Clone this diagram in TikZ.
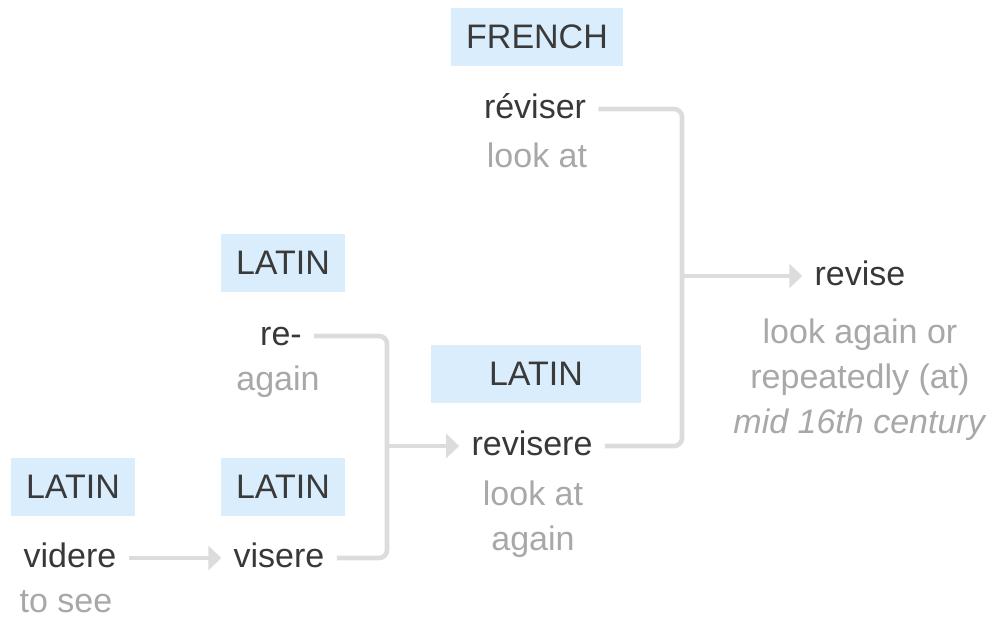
\documentclass[tikz,border=0pt]{standalone}
\usepackage{fontspec}
\setmainfont{Liberation Sans}
\usetikzlibrary{arrows.meta}

\definecolor{boxblue}{HTML}{DAEDFC}
\definecolor{labelgray}{HTML}{3A3A3A}
\definecolor{wordgray}{HTML}{383838}
\definecolor{meangray}{HTML}{A8A8A8}
\definecolor{linegray}{HTML}{DCDCDC}

\begin{document}
\begin{tikzpicture}[
		x=0.5pt, y=-0.5pt,
		font=\fontsize{17pt}{22.5pt}\selectfont,
		lang/.style = {rectangle, fill=boxblue, text=labelgray, inner xsep=7.5pt, minimum height=29pt, text depth=0pt},
		word/.style = {anchor=base, text=wordgray, inner xsep=6pt, text height=9pt, text depth=0pt},
		mean/.style = {anchor=base, text=meangray, align=center},
		l/.style = {draw=linegray, line width=2.3pt, rounded corners=4pt},
		a/.style = {draw=linegray, line width=2.3pt, -{Triangle[length=6.5pt, width=12pt]}}
		]
		\useasboundingbox (0, 0) rectangle (1004, 621);
		
		%Nodes
		\node[lang]	(fr)	at (537, 36.5)	{FRENCH};
		\node[lang]	(la1)	at (283, 262.5)	{LATIN};
		\node[lang, minimum width=105pt]	(la2)	at (536, 374)	{LATIN};
		\node[lang]	(la3)	at (73, 487)	{LATIN};
		\node[lang]	(la4)	at (283, 487)	{LATIN};
		
		\node[word]	(reviser)	at (535, 118)	{réviser};
		\node[word]	(re)	at (281, 345)	{re-};
		\node[word]	(revisere)	at (532, 455)	{revisere};
		\node[word]	(videre)	at (70, 567)	{videre};
		\node[word]	(visere)	at (279, 567)	{visere};
		\node[word]	(revise)	at (860, 285)	{revise};
		
		%Meanings (base = last line)
		\node[mean]	(m1)	at (537, 167)	{look at};
		\node[mean]	(m2)	at (278, 390)	{again};
		\node[mean]	(m3)	at (533, 550)	{look at\\again};
		\node[mean]	(m4)	at (66, 612)	{to see};
		\node[mean]	(m5)	at (860, 433)	{look again or\\repeatedly (at)\\\textit{mid 16th century}};
		
		\coordinate	(j1)	at (387, 446);
		\coordinate	(j2)	at (682, 280);
		
		%Lines
		\draw[a] (videre.east) -- (visere.west);
		\draw[l] (re.east) -| (j1) |- (visere.east);
		\draw[a] (revisere.west -| j1) -- (revisere.west);
		\draw[l] (reviser.east) -| (j2) |- (revisere.east);
		\draw[a] (revise.west -| j2) -- (revise.west);
		
	\end{tikzpicture}
\end{document}
